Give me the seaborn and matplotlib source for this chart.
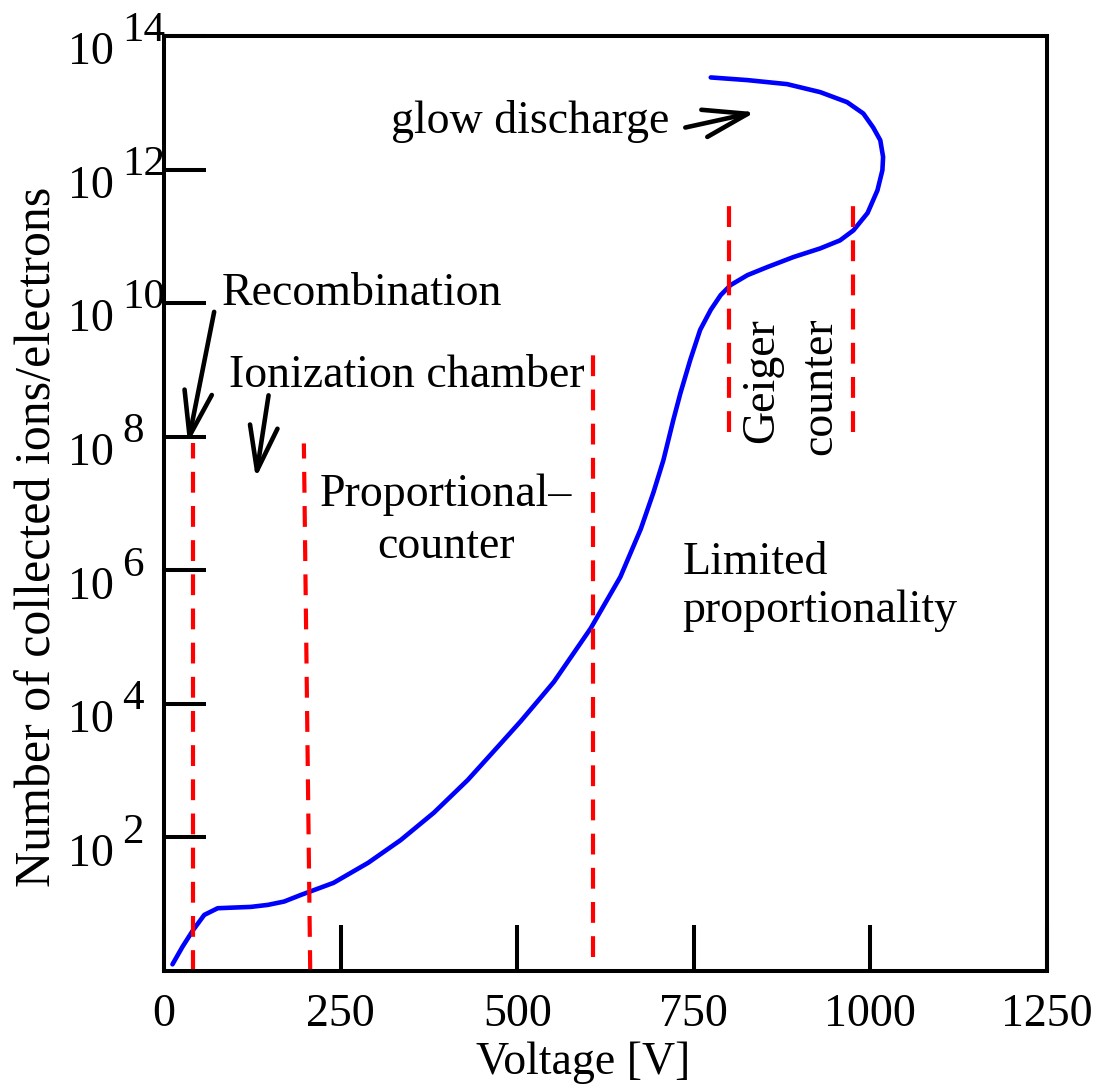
import numpy as np
import pandas as pd
import matplotlib.pyplot as plt
import seaborn as sns

# gas-detector response curve (log10 of collected charges)
voltage = [12, 26, 41, 57, 76, 99, 123, 147, 170, 194,
           240, 289, 335, 382, 430, 477, 505, 533, 552, 604,
           646, 675, 693, 707, 721, 731, 745, 759, 774, 788,
           802, 826, 854, 891, 929, 957, 976, 996, 1010, 1017,
           1018, 1014, 1004, 990, 967, 929, 882, 826, 774]
log_count = [0.10, 0.36, 0.61, 0.84, 0.94, 0.95, 0.96, 0.99, 1.04, 1.14,
             1.32, 1.62, 1.96, 2.37, 2.86, 3.41, 3.74, 4.09, 4.33, 5.13,
             5.90, 6.62, 7.17, 7.65, 8.25, 8.65, 9.15, 9.60, 9.90, 10.12,
             10.27, 10.42, 10.54, 10.69, 10.82, 10.94, 11.09, 11.35, 11.69, 11.99,
             12.19, 12.44, 12.63, 12.84, 13.01, 13.16, 13.28, 13.34, 13.38]

# region dividers (red dashed)
div_x_top = [41, 198, 608, 800, 976]
div_x_bot = [41, 207, 608, 800, 976]
div_lo = [0, 0, 0.21, 8.07, 8.07]
div_hi = [7.9, 7.9, 9.27, 11.62, 11.62]

x_ticks = [0, 250, 500, 750, 1000, 1250]
y_exps = [2, 4, 6, 8, 10, 12, 14]

df = pd.DataFrame({"voltage": voltage, "count": 10.0 ** np.array(log_count)})

sns.set_theme(style="white")
plt.rcParams["font.family"] = ["Liberation Serif", "DejaVu Serif"]
for k in ["text.color", "axes.labelcolor", "xtick.color", "ytick.color", "axes.edgecolor"]:
    plt.rcParams[k] = "black"
FS = 33

fig = plt.figure(figsize=(10.97, 10.92), dpi=100)
ax = fig.add_axes([0.1495, 0.1108, 0.8049, 0.8562])
ax.set_yscale("log")
ax.set_xlim(0, 1250)
ax.set_ylim(1, 1e14)

sns.lineplot(x="voltage", y="count", data=df, sort=False, estimator=None,
             color="#0000ff", lw=3.3, ax=ax, solid_joinstyle="round")

for xt, xb, lo, hi in zip(div_x_top, div_x_bot, div_lo, div_hi):
    seg = pd.DataFrame({"x": [xb, xt], "y": [10.0 ** lo, 10.0 ** hi]})
    sns.lineplot(x="x", y="y", data=seg, sort=False, estimator=None, color="#ff0000",
                 lw=3.0, linestyle=(0, (5, 3.2)), ax=ax)

# spines / ticks
for s in ax.spines.values():
    s.set_linewidth(2.9)
    s.set_color("black")
ax.set_xticks(x_ticks)
ax.set_xticklabels([str(v) for v in x_ticks])
ax.set_yticks([10.0 ** e for e in y_exps])
ax.set_yticklabels([])
ax.minorticks_off()
ax.tick_params(axis="x", direction="in", length=33, width=2.9, labelsize=FS, pad=16,
               bottom=True, top=False)
ax.tick_params(axis="y", direction="in", length=30, width=2.9, left=True, right=False)

# y tick labels drawn as "10" with a large exponent beside it
for e in y_exps:
    ax.annotate("10", xy=(0, 10.0 ** e), xycoords=("axes fraction", "data"),
                xytext=(-50, -17), textcoords="offset pixels", ha="right", va="center",
                fontsize=FS, annotation_clip=False)
    ax.annotate(str(e), xy=(0, 10.0 ** e), xycoords=("axes fraction", "data"),
                xytext=(-42, 5), textcoords="offset pixels", ha="left", va="center",
                fontsize=31, annotation_clip=False)

ax.set_xlabel("Voltage [V]", fontsize=FS)
ax.set_ylabel("Number of collected ions/electrons", fontsize=36)
ax.xaxis.set_label_coords(0.475, -0.075)
ax.yaxis.set_label_coords(-0.117, 0.464)

# region labels
ax.text(321, 10 ** 12.72, "glow discharge", fontsize=FS, ha="left", va="center")
ax.text(81, 10 ** 9.97, "Recombination", fontsize=FS, ha="left", va="baseline")
ax.text(92, 10 ** 8.74, "Ionization chamber", fontsize=FS, ha="left", va="baseline")
ax.text(399, 10 ** 6.18, "Proportional–\ncounter", fontsize=FS, ha="center",
        va="baseline", linespacing=1.29, multialignment="center")
ax.text(734, 10 ** 5.22, "Limited\nproportionality", fontsize=FS, ha="left",
        va="baseline", linespacing=1.17)
ax.text(847, 10 ** 7.90, "Geiger", fontsize=FS, rotation=90, ha="center", va="bottom")
ax.text(929, 10 ** 7.72, "counter", fontsize=FS, rotation=90, ha="center", va="bottom")

# arrows
arrow = dict(arrowstyle="->,head_length=3.2,head_width=1.0", mutation_scale=10,
             lw=3.3, color="black", shrinkA=0, shrinkB=0)
for (hx, he), (tx, te) in [((837, 12.86), (738, 12.63)),
                            ((34, 7.90), (71, 9.87)),
                            ((130, 7.38), (148, 8.62))]:
    ax.annotate("", xy=(hx, 10 ** he), xytext=(tx, 10 ** te), arrowprops=arrow)

fig.savefig("out.png", dpi=100)
plt.close(fig)
